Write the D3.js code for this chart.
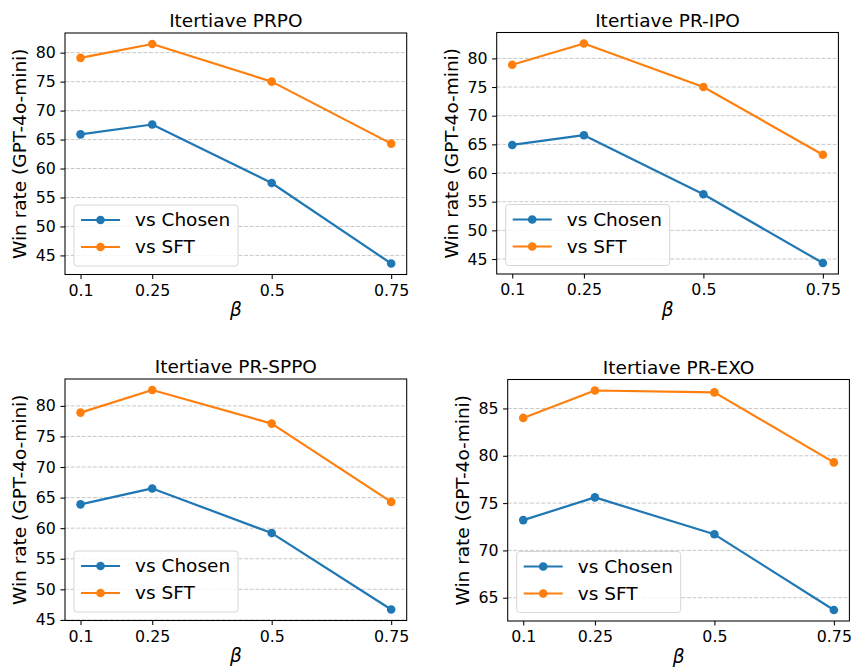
<!DOCTYPE html>
<html>
<head>
<meta charset="utf-8">
<title>Win rate vs beta</title>
<script src="https://cdn.jsdelivr.net/npm/d3@7"></script>
<style>
  body { margin: 0; background: #fff; }
  svg text { font-family: "DejaVu Sans", sans-serif; fill: #000; }
</style>
</head>
<body>
<script>
// data
var betas = [0.1, 0.25, 0.5, 0.75];
var betaLabels = ["0.1", "0.25", "0.5", "0.75"];
var titles = ["Itertiave PRPO", "Itertiave PR-IPO", "Itertiave PR-SPPO", "Itertiave PR-EXO"];
var seriesNames = ["vs Chosen", "vs SFT"];
var chosenPRPO = [65.9, 67.6, 57.5, 43.6];
var sftPRPO    = [79.1, 81.5, 75.0, 64.3];
var chosenIPO  = [64.9, 66.6, 56.3, 44.3];
var sftIPO     = [78.9, 82.6, 75.0, 63.2];
var chosenSPPO = [63.9, 66.5, 59.2, 46.7];
var sftSPPO    = [78.9, 82.6, 77.1, 64.3];
var chosenEXO  = [73.2, 75.6, 71.7, 63.7];
var sftEXO     = [84.0, 86.9, 86.7, 79.3];
var yTicksA = [45, 50, 55, 60, 65, 70, 75, 80];
var yTicksB = [65, 70, 75, 80, 85];

var colors = ["#1f77b4", "#ff7f0e"];
var W = 851, H = 669;
var aw = 341.7, ah = 241.5;

var panels = [
  {left: 65,    top: 33,    title: titles[0], series: [chosenPRPO, sftPRPO], ticks: yTicksA},
  {left: 496.7, top: 32.5,  title: titles[1], series: [chosenIPO, sftIPO],   ticks: yTicksA},
  {left: 65,    top: 379,   title: titles[2], series: [chosenSPPO, sftSPPO], ticks: yTicksA},
  {left: 507.7, top: 379.5, title: titles[3], series: [chosenEXO, sftEXO],   ticks: yTicksB}
];

var svg = d3.select("body").append("svg")
    .attr("width", W)
    .attr("height", H);

panels.forEach(function(p) {
  var g = svg.append("g").attr("transform", "translate(" + p.left + "," + p.top + ")");

  // matplotlib style 5% margins
  var xmin = d3.min(betas), xmax = d3.max(betas), xm = (xmax - xmin) * 0.05;
  var x = d3.scaleLinear().domain([xmin - xm, xmax + xm]).range([0, aw]);
  var all = p.series[0].concat(p.series[1]);
  var ymin = d3.min(all), ymax = d3.max(all), ym = (ymax - ymin) * 0.05;
  var y = d3.scaleLinear().domain([ymin - ym, ymax + ym]).range([ah, 0]);

  // grid
  g.selectAll(".grid").data(p.ticks).enter().append("line")
    .attr("x1", 0).attr("x2", aw)
    .attr("y1", function(d) { return y(d); })
    .attr("y2", function(d) { return y(d); })
    .attr("stroke", "#c8c8c8")
    .attr("stroke-width", 1)
    .attr("stroke-dasharray", "3.9,1.7");

  // lines + markers
  var line = d3.line()
    .x(function(d, i) { return x(betas[i]); })
    .y(function(d) { return y(d); });
  p.series.forEach(function(s, k) {
    g.append("path")
      .datum(s)
      .attr("d", line)
      .attr("fill", "none")
      .attr("stroke", colors[k])
      .attr("stroke-width", 2.2)
      .attr("stroke-linejoin", "round");
    g.selectAll(".pt" + k).data(s).enter().append("circle")
      .attr("cx", function(d, i) { return x(betas[i]); })
      .attr("cy", function(d) { return y(d); })
      .attr("r", 4.3)
      .attr("fill", colors[k]);
  });

  // axes
  var xAxis = d3.axisBottom(x).tickValues(betas)
    .tickFormat(function(d, i) { return betaLabels[i]; })
    .tickSize(4.6).tickPadding(4.6);
  var gx = g.append("g").attr("transform", "translate(0," + ah + ")").call(xAxis);
  var yAxis = d3.axisLeft(y).tickValues(p.ticks).tickSize(4.6).tickPadding(4.6);
  var gy = g.append("g").call(yAxis);
  [gx, gy].forEach(function(a) {
    a.select(".domain").remove();
    a.selectAll(".tick line").attr("stroke", "#000").attr("stroke-width", 1.05);
    a.selectAll(".tick text").style("font-size", "15.8px").attr("fill", "#000");
  });
  gx.selectAll(".tick text").attr("dy", "0.76em");

  // frame
  g.append("rect")
    .attr("x", 0).attr("y", 0)
    .attr("width", aw).attr("height", ah)
    .attr("fill", "none")
    .attr("stroke", "#000")
    .attr("stroke-width", 1.05);

  // title and labels
  g.append("text")
    .attr("x", aw / 2).attr("y", -6)
    .attr("text-anchor", "middle")
    .style("font-size", "18.5px")
    .text(p.title);
  g.append("text")
    .attr("x", aw / 2).attr("y", ah + 41.5)
    .attr("text-anchor", "middle")
    .style("font-size", "18.5px")
    .style("font-style", "italic")
    .text("β");
  g.append("text")
    .attr("transform", "translate(-39," + (ah / 2) + ") rotate(-90)")
    .attr("text-anchor", "middle")
    .style("font-size", "18.5px")
    .text("Win rate (GPT-4o-mini)");

  // legend
  var lg = g.append("g").attr("transform", "translate(9," + (ah - 8.5 - 61) + ")");
  lg.append("rect")
    .attr("width", 164).attr("height", 61)
    .attr("rx", 3).attr("ry", 3)
    .attr("fill", "#fff").attr("fill-opacity", 0.8)
    .attr("stroke", "#d6d6d6").attr("stroke-width", 1);
  seriesNames.forEach(function(name, k) {
    var cy = 15 + k * 27;
    lg.append("line")
      .attr("x1", 7).attr("x2", 46)
      .attr("y1", cy).attr("y2", cy)
      .attr("stroke", colors[k]).attr("stroke-width", 2.2);
    lg.append("circle")
      .attr("cx", 26.5).attr("cy", cy).attr("r", 4.3)
      .attr("fill", colors[k]);
    lg.append("text")
      .attr("x", 61).attr("y", cy)
      .attr("dy", "0.35em")
      .style("font-size", "18.5px")
      .text(name);
  });
});
</script>
</body>
</html>
